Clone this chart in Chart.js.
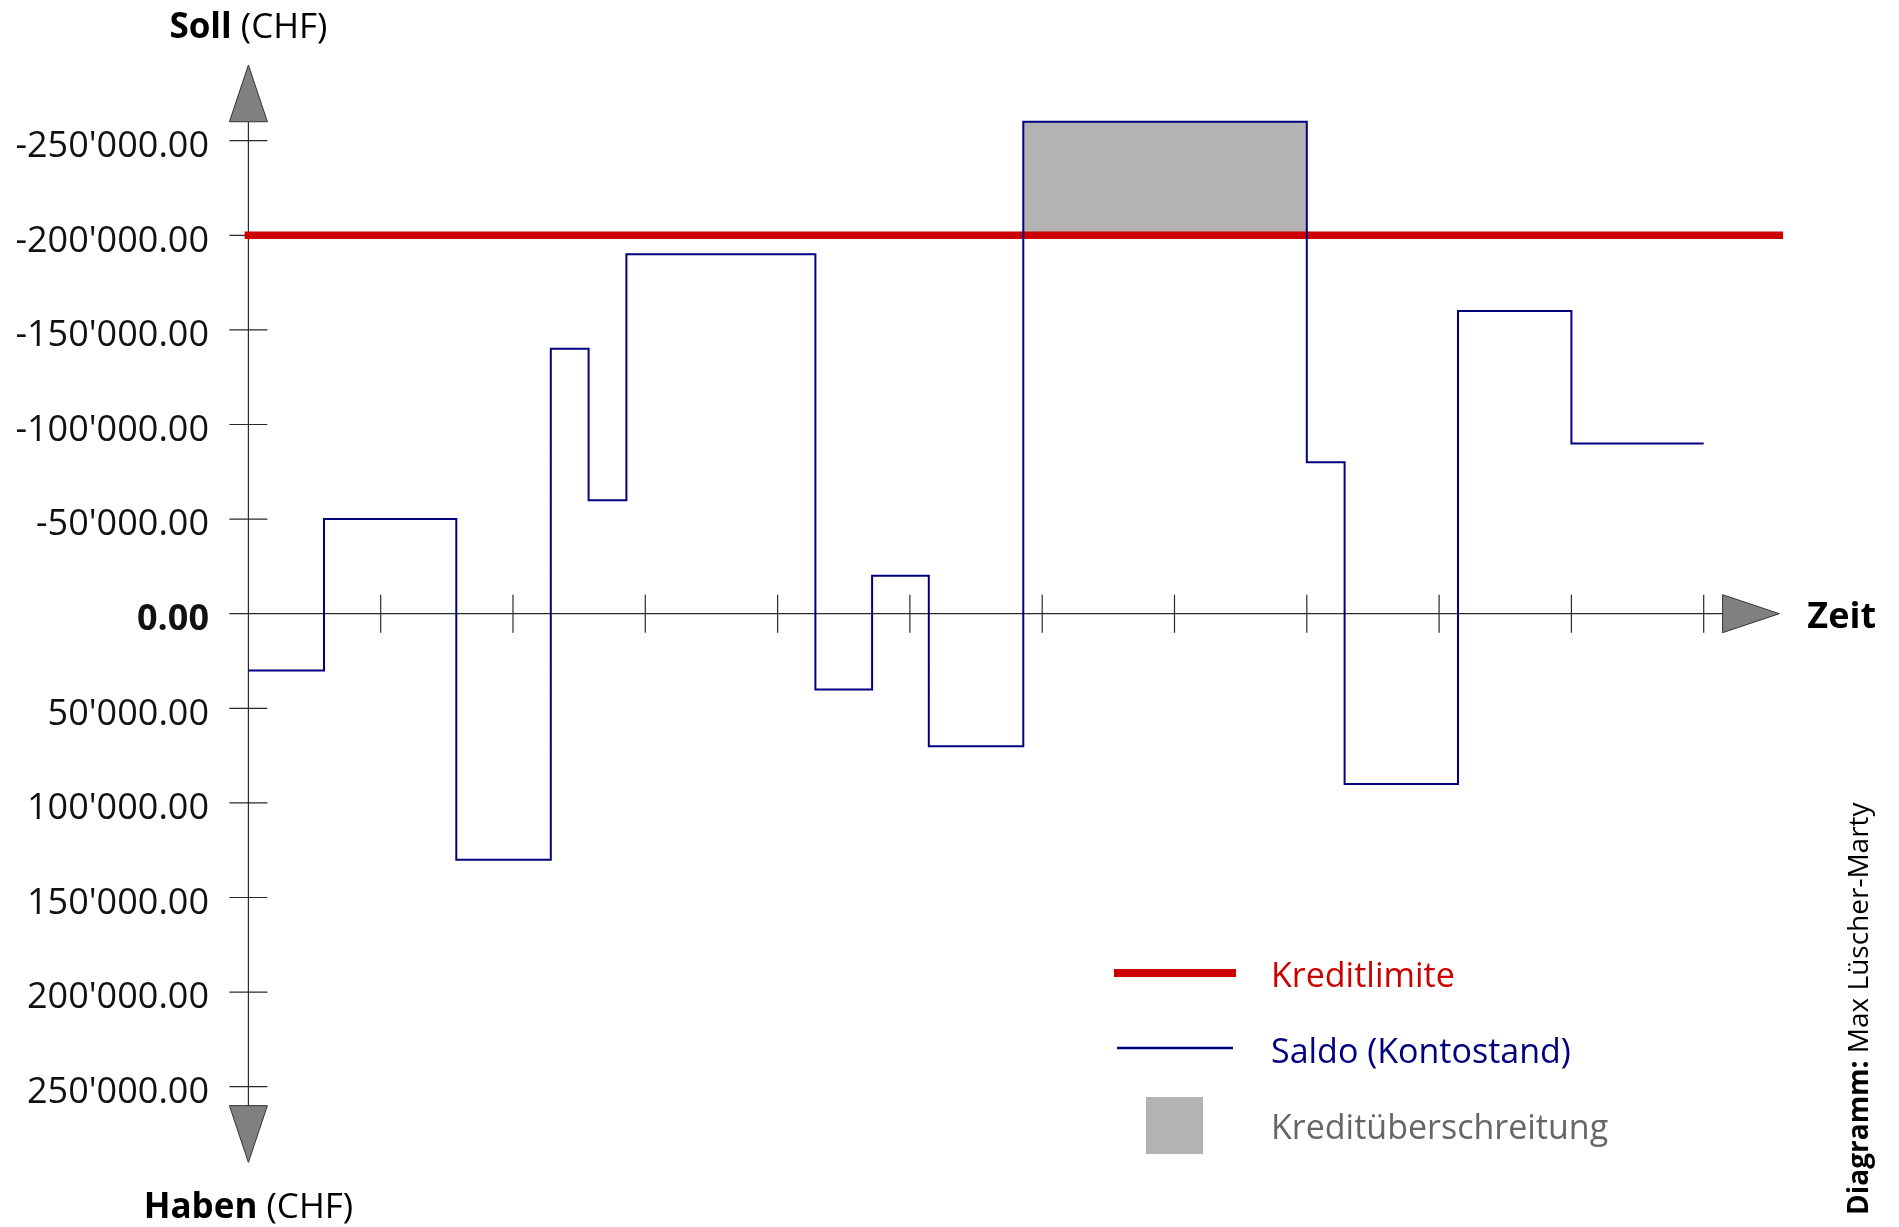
<!DOCTYPE html>
<html>
<head>
<meta charset="utf-8">
<title>Kreditlimite und Saldo</title>
<script src="https://cdn.jsdelivr.net/npm/chart.js@4.4.1/dist/chart.umd.min.js"></script>
<style>
  html, body { margin: 0; padding: 0; background: #fff; }
</style>
</head>
<body>
<canvas id="kontoChart" width="1899" height="1227"></canvas>
<script>
// days on which the balance changes (last entry = end of the period)
var days = [0, 4, 11, 16, 18, 20, 30, 33, 36, 41, 56, 58, 64, 70, 77];
// balance from that day on (negative = Soll, positive = Haben)
var saldo = [30000, -50000, 130000, -140000, -60000, -190000, 40000, -20000, 70000, -260000, -80000, 90000, -160000, -90000, -90000];
// credit limit and how far the red line runs
var kreditlimite = -200000;
var limitDays = [-0.2, 81.2];
// tick marks
var yTicks = [-250000, -200000, -150000, -100000, -50000, 0, 50000, 100000, 150000, 200000, 250000];
var xTicks = [7, 14, 21, 28, 35, 42, 49, 56, 63, 70, 77];
// axis arrows (base, tip) in axis units
var xArrow = [78, 81];
var yArrow = [260000, 290000];

var FONT = "'Open Sans', 'Noto Sans', sans-serif";

function chf(v) {
  var parts = Math.abs(v).toFixed(2).split('.');
  var grouped = parts[0].replace(/\B(?=(\d{3})+(?!\d))/g, "'");
  return (v < 0 ? '-' : '') + grouped + '.' + parts[1];
}

function mixedText(ctx, pieces, x, y) {
  // pieces: [[text, weight, size], ...] drawn left to right
  pieces.forEach(function (p) {
    ctx.font = p[1] + ' ' + p[2] + 'px ' + FONT;
    ctx.fillText(p[0], x, y);
    x += ctx.measureText(p[0]).width;
  });
}

function mixedWidth(ctx, pieces) {
  var w = 0;
  pieces.forEach(function (p) {
    ctx.font = p[1] + ' ' + p[2] + 'px ' + FONT;
    w += ctx.measureText(p[0]).width;
  });
  return w;
}

function arrow(ctx, tipX, tipY, baseX, baseY, half) {
  var dx = tipX - baseX, dy = tipY - baseY;
  var len = Math.sqrt(dx * dx + dy * dy);
  var nx = -dy / len * half, ny = dx / len * half;
  ctx.beginPath();
  ctx.moveTo(tipX, tipY);
  ctx.lineTo(baseX + nx, baseY + ny);
  ctx.lineTo(baseX - nx, baseY - ny);
  ctx.closePath();
  ctx.fillStyle = '#808080';
  ctx.fill();
  ctx.lineWidth = 1;
  ctx.strokeStyle = '#333';
  ctx.stroke();
}

var achsen = {
  id: 'achsen',
  beforeDatasetsDraw: function (chart) {
    var ctx = chart.ctx, xs = chart.scales.x, ys = chart.scales.y;
    var x0 = xs.getPixelForValue(0), y0 = ys.getPixelForValue(0);
    ctx.save();
    ctx.strokeStyle = '#2a2a2a';
    ctx.lineWidth = 1.2;
    ctx.beginPath();
    ctx.moveTo(xs.getPixelForValue(xs.min), y0);
    ctx.lineTo(xs.getPixelForValue(xArrow[0]), y0);
    ctx.moveTo(x0, ys.getPixelForValue(-yArrow[0]));
    ctx.lineTo(x0, ys.getPixelForValue(yArrow[0]));
    xTicks.forEach(function (d) {
      var px = xs.getPixelForValue(d);
      ctx.moveTo(px, y0 - 19);
      ctx.lineTo(px, y0 + 19);
    });
    yTicks.forEach(function (v) {
      var py = ys.getPixelForValue(v);
      ctx.moveTo(x0 - 19, py);
      ctx.lineTo(x0 + 19, py);
    });
    ctx.stroke();
    arrow(ctx, xs.getPixelForValue(xArrow[1]), y0, xs.getPixelForValue(xArrow[0]), y0, 19);
    arrow(ctx, x0, ys.getPixelForValue(-yArrow[1]), x0, ys.getPixelForValue(-yArrow[0]), 19);
    arrow(ctx, x0, ys.getPixelForValue(yArrow[1]), x0, ys.getPixelForValue(yArrow[0]), 19);
    ctx.restore();
  },
  afterDraw: function (chart) {
    var ctx = chart.ctx, xs = chart.scales.x, ys = chart.scales.y;
    var x0 = xs.getPixelForValue(0), y0 = ys.getPixelForValue(0);
    ctx.save();
    ctx.fillStyle = '#000';
    ctx.textBaseline = 'alphabetic';
    ctx.textAlign = 'left';

    // axis titles
    var soll = [['Soll', 'bold', 35], [' (CHF)', 'normal', 35]];
    mixedText(ctx, soll, x0 - mixedWidth(ctx, soll) / 2, 38);
    var haben = [['Haben', 'bold', 35], [' (CHF)', 'normal', 35]];
    mixedText(ctx, haben, x0 - mixedWidth(ctx, haben) / 2, 1218);
    ctx.font = 'bold 36px ' + FONT;
    ctx.fillText('Zeit', xs.getPixelForValue(xArrow[1]) + 28, y0 + 14);

    // legend
    var ds = chart.data.datasets;
    var lx = 1114, lw = 122, tx = 1271;
    ctx.font = '34px ' + FONT;
    // Kreditlimite
    ctx.fillStyle = ds[1].borderColor;
    ctx.fillRect(lx, 969, lw, 8);
    ctx.fillText(ds[1].label, tx, 987);
    // Saldo
    ctx.strokeStyle = ds[0].borderColor;
    ctx.lineWidth = 2.5;
    ctx.beginPath();
    ctx.moveTo(lx + 3, 1048);
    ctx.lineTo(lx + lw - 3, 1048);
    ctx.stroke();
    ctx.fillStyle = ds[0].borderColor;
    ctx.fillText(ds[0].label, tx, 1063);
    // Kreditueberschreitung
    ctx.fillStyle = ds[2].backgroundColor;
    ctx.fillRect(1146, 1097, 57, 57);
    ctx.fillStyle = '#666666';
    ctx.fillText(ds[2].label, tx, 1139);

    // credit, rotated
    ctx.translate(1868, 1215);
    ctx.rotate(-Math.PI / 2);
    ctx.fillStyle = '#000';
    mixedText(ctx, [['Diagramm:', 'bold', 28], [' Max Lüscher-Marty', 'normal', 28]], 0, 0);
    ctx.restore();
  }
};

var saldoPts = days.map(function (d, i) { return { x: d, y: saldo[i] }; });
var overPts = days.map(function (d, i) { return { x: d, y: Math.min(saldo[i], kreditlimite) }; });
var limitPts = limitDays.map(function (d) { return { x: d, y: kreditlimite }; });

new Chart(document.getElementById('kontoChart'), {
  type: 'line',
  data: {
    datasets: [
      {
        label: 'Saldo (Kontostand)',
        data: saldoPts,
        stepped: 'before',
        borderColor: '#000080',
        borderWidth: 2,
        pointRadius: 0,
        fill: false,
        order: 1
      },
      {
        label: 'Kreditlimite',
        data: limitPts,
        borderColor: '#cc0000',
        borderWidth: 7.5,
        borderCapStyle: 'butt',
        pointRadius: 0,
        fill: false,
        order: 2
      },
      {
        label: 'Kreditüberschreitung',
        data: overPts,
        stepped: 'before',
        borderWidth: 0,
        borderColor: 'rgba(0,0,0,0)',
        backgroundColor: '#b3b3b3',
        pointRadius: 0,
        fill: { value: kreditlimite },
        order: 3
      }
    ]
  },
  options: {
    responsive: false,
    animation: false,
    layout: { padding: { top: 65, right: 100.8, bottom: 64.6, left: 0 } },
    plugins: {
      legend: { display: false },
      tooltip: { enabled: false }
    },
    scales: {
      x: {
        type: 'linear',
        display: false,
        min: -1,
        max: 82
      },
      y: {
        type: 'linear',
        position: 'left',
        reverse: true,
        min: -290000,
        max: 290000,
        grid: { display: false, drawTicks: false },
        border: { display: false },
        afterFit: function (scale) { scale.width = 229.5; },
        afterBuildTicks: function (scale) {
          scale.ticks = yTicks.map(function (v) { return { value: v }; });
        },
        ticks: {
          padding: 20.5,
          labelOffset: 6,
          color: '#111',
          font: function (c) {
            return { family: FONT, size: 36, weight: c.tick && c.tick.value === 0 ? 'bold' : 'normal' };
          },
          callback: function (v) { return chf(v); }
        }
      }
    }
  },
  plugins: [achsen]
});
</script>
</body>
</html>
